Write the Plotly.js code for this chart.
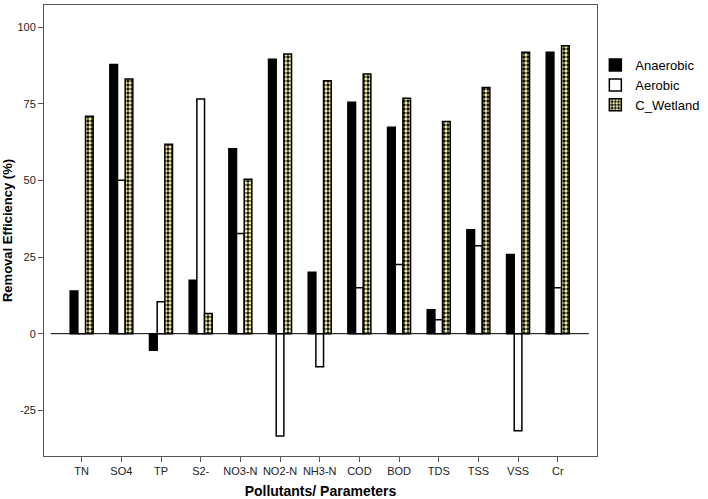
<!DOCTYPE html>
<html>
<head>
<meta charset="utf-8">
<script src="https://cdn.plot.ly/plotly-3.0.1.min.js"></script>
<style>html,body{margin:0;padding:0;background:#fff;}#chart{width:708px;height:499px;}</style>
</head>
<body>
<div id="chart"></div>
<script>
const categories = ["TN","SO4","TP","S2-","NO3-N","NO2-N","NH3-N","COD","BOD","TDS","TSS","VSS","Cr"];
const anaerobic = [13.9, 87.8, -5.4, 17.4, 60.3, 89.5, 20.0, 75.5, 67.3, 7.8, 33.9, 25.8, 91.8];
const aerobic   = [0.0, 50.0, 10.4, 76.5, 32.7, -33.4, -10.8, 15.0, 22.6, 4.5, 28.7, -31.7, 15.0];
const wetland   = [70.9, 83.1, 61.8, 6.6, 50.4, 91.2, 82.5, 84.7, 76.8, 69.2, 80.3, 91.8, 93.9];
const yTicks = [-25, 0, 25, 50, 75, 100];

const FONT = "Arial, 'Liberation Sans', sans-serif";
const traces = [
  {type:"bar", name:"Anaerobic", x:categories, y:anaerobic,
   marker:{color:"#000000", line:{color:"#000000", width:1.5}}},
  {type:"bar", name:"Aerobic", x:categories, y:aerobic,
   marker:{color:"#ffffff", line:{color:"#000000", width:1.5}}},
  {type:"bar", name:"C_Wetland", x:categories, y:wetland,
   marker:{color:"#000000", line:{color:"#000000", width:1.5},
     pattern:{shape:".", bgcolor:"#000000", fgcolor:"#ece6a0", size:4, solidity:0.55}}}
];

const layout = {
  width:708, height:499,
  margin:{l:44, r:111, t:5, b:43, autoexpand:false},
  paper_bgcolor:"#ffffff", plot_bgcolor:"#ffffff",
  font:{family:FONT, size:11, color:"#222"},
  barmode:"group", bargap:0.42, bargroupgap:0,
  showlegend:true,
  legend:{x:0.997, y:0.9, xanchor:"left", yanchor:"top",
    font:{family:FONT, size:13, color:"#000"}, tracegroupgap:0, itemwidth:30,
    bgcolor:"rgba(0,0,0,0)"},
  xaxis:{type:"category", range:[-0.95, 12.99], showgrid:false, zeroline:false,
    showline:true, mirror:true, linecolor:"#555", linewidth:1,
    ticks:"outside", ticklen:5, tickcolor:"#555", automargin:false,
    tickfont:{family:FONT, size:11, color:"#222"},
    title:{text:"Pollutants/ Parameters", font:{family:FONT, size:14, color:"#000", weight:"bold"}, standoff:14}},
  yaxis:{range:[-39.9, 107.2], tickvals:yTicks, ticktext:yTicks.map(String),
    showgrid:false, zeroline:false, automargin:false,
    showline:true, mirror:true, linecolor:"#555", linewidth:1,
    ticks:"outside", ticklen:5, tickcolor:"#555",
    tickfont:{family:FONT, size:11, color:"#222"},
    title:{text:"Removal Efficiency (%)", font:{family:FONT, size:13, color:"#000", weight:"bold"}, standoff:8}},
  shapes:[{type:"line", xref:"paper", yref:"y", x0:0.012, x1:0.985, y0:0, y1:0,
    line:{color:"#000", width:1}}]
};

Plotly.newPlot("chart", traces, layout, {displayModeBar:false, staticPlot:true});
</script>
</body>
</html>
